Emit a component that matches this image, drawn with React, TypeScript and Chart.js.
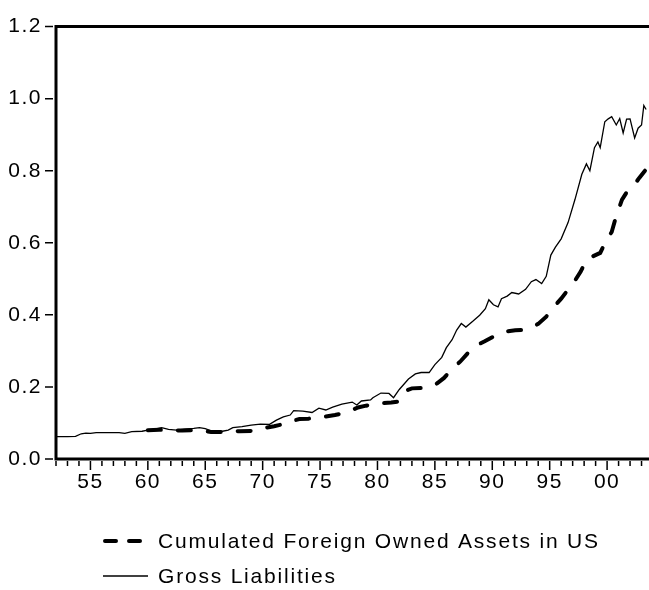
import { useEffect, useRef } from "react";
import { Chart, registerables } from "chart.js";

Chart.register(...registerables);

// Cumulated Foreign Owned Assets in US (share, dashed)
const assetsYears = [
  1960.0, 1961.0, 1962.0, 1963.0, 1964.0, 1964.8, 1965.5, 1966.5, 1967.3, 1968.0,
  1969.0, 1969.6, 1970.3, 1971.0, 1971.8, 1972.5, 1973.2, 1974.0, 1974.8, 1975.5,
  1976.3, 1977.0, 1977.7, 1978.3, 1979.0, 1979.7, 1980.5, 1981.2, 1981.9, 1982.5,
  1983.0, 1984.0, 1984.6, 1985.2, 1985.8, 1986.5, 1987.2, 1987.9, 1988.6, 1989.3,
  1990.0, 1990.6, 1991.3, 1992.0, 1992.7, 1993.3, 1994.0, 1994.7, 1995.3, 1996.0,
  1996.6, 1997.2, 1997.7, 1998.2, 1998.8, 1999.4, 1999.9, 2000.4, 2000.8, 2001.3,
  2001.8, 2002.3, 2002.8, 2003.3,
];
const assetsValues = [
  0.080, 0.081, 0.080, 0.079, 0.080, 0.078, 0.075, 0.075, 0.078, 0.077,
  0.078, 0.080, 0.087, 0.091, 0.097, 0.105, 0.111, 0.112, 0.114, 0.118,
  0.122, 0.127, 0.135, 0.143, 0.148, 0.152, 0.155, 0.157, 0.160, 0.190,
  0.196, 0.197, 0.200, 0.210, 0.225, 0.250, 0.270, 0.295, 0.315, 0.326,
  0.338, 0.347, 0.354, 0.357, 0.358, 0.363, 0.375, 0.395, 0.420, 0.445,
  0.470, 0.495, 0.520, 0.553, 0.563, 0.572, 0.605, 0.630, 0.675, 0.720,
  0.745, 0.758, 0.780, 0.800,
];

// Gross Liabilities (share, thin solid)
const grossYears = [
  1952.0, 1953.0, 1953.7, 1954.2, 1954.6, 1955.0, 1955.5, 1956.5, 1957.5, 1958.0,
  1958.6, 1959.5, 1960.0, 1960.6, 1961.2, 1961.8, 1962.5, 1963.2, 1964.0, 1964.5,
  1965.0, 1965.5, 1966.5, 1967.0, 1967.4, 1968.2, 1969.0, 1969.8, 1970.6, 1971.2,
  1971.8, 1972.4, 1972.7, 1973.5, 1974.3, 1974.9, 1975.5, 1976.1, 1976.9, 1977.8,
  1978.2, 1978.6, 1979.4, 1979.6, 1980.3, 1981.0, 1981.4, 1981.9, 1982.7, 1983.3,
  1983.8, 1984.5, 1985.0, 1985.6, 1986.0, 1986.5, 1986.9, 1987.3, 1987.7, 1988.3,
  1988.9, 1989.4, 1989.7, 1990.1, 1990.5, 1990.8, 1991.3, 1991.7, 1992.3, 1992.9,
  1993.4, 1993.8, 1994.3, 1994.7, 1995.1, 1995.5, 1996.0, 1996.6, 1997.2, 1997.8,
  1998.2, 1998.5, 1998.9, 1999.2, 1999.4, 1999.8, 2000.1, 2000.4, 2000.8, 2001.1,
  2001.4, 2001.7, 2002.0, 2002.4, 2002.7, 2003.0, 2003.2, 2003.4,
];
const grossValues = [
  0.062, 0.062, 0.063, 0.070, 0.072, 0.071, 0.073, 0.073, 0.073, 0.071,
  0.076, 0.077, 0.080, 0.083, 0.087, 0.082, 0.080, 0.083, 0.085, 0.087,
  0.084, 0.078, 0.077, 0.080, 0.087, 0.090, 0.094, 0.097, 0.096, 0.108,
  0.117, 0.122, 0.134, 0.133, 0.129, 0.141, 0.136, 0.144, 0.152, 0.158,
  0.150, 0.161, 0.164, 0.170, 0.183, 0.182, 0.170, 0.193, 0.222, 0.236,
  0.240, 0.240, 0.262, 0.282, 0.309, 0.331, 0.358, 0.376, 0.366, 0.382,
  0.399, 0.417, 0.442, 0.428, 0.422, 0.445, 0.452, 0.462, 0.458, 0.471,
  0.492, 0.498, 0.487, 0.507, 0.566, 0.588, 0.611, 0.656, 0.720, 0.790,
  0.819, 0.800, 0.864, 0.880, 0.864, 0.936, 0.944, 0.950, 0.927, 0.945,
  0.905, 0.943, 0.944, 0.891, 0.918, 0.927, 0.981, 0.970,
];

const legendLabels = ["Cumulated Foreign Owned Assets in US", "Gross Liabilities"];
const yTickValues = [0, 0.2, 0.4, 0.6, 0.8, 1.0, 1.2];
const xLabelYears = [1955, 1960, 1965, 1970, 1975, 1980, 1985, 1990, 1995, 2000];
const xFirstYear = 1952;
const xLastTickYear = 2003;

const FONT = "'Liberation Sans', Arial, Helvetica, sans-serif";

export default function App() {
  const ref = useRef<HTMLCanvasElement | null>(null);

  useEffect(() => {
    document.body.style.margin = "0";
    const canvas = ref.current;
    if (!canvas) return;

    const decor = {
      id: "decor",
      beforeDraw(chart: any) {
        chart.ctx.letterSpacing = "1.5px";
      },
      afterDraw(chart: any) {
        const { ctx, chartArea, scales } = chart;
        const { left, top, right, bottom } = chartArea;
        const xs = scales.x;
        const ys = scales.y;
        ctx.save();
        ctx.strokeStyle = "#000";
        ctx.lineCap = "butt";
        // frame (left, top, bottom)
        ctx.lineWidth = 3;
        ctx.beginPath();
        ctx.moveTo(left, bottom);
        ctx.lineTo(left, top);
        ctx.lineTo(right, top);
        ctx.moveTo(left - 1.5, bottom);
        ctx.lineTo(right, bottom);
        ctx.stroke();
        // y ticks
        ctx.lineWidth = 1.5;
        ctx.beginPath();
        yTickValues.forEach((v) => {
          const py = ys.getPixelForValue(v);
          ctx.moveTo(left - 11, py);
          ctx.lineTo(left - 3, py);
        });
        // x ticks (yearly, long every 5 years)
        for (let yr = xFirstYear; yr <= xLastTickYear; yr++) {
          const px = xs.getPixelForValue(yr);
          const major = yr % 5 === 0;
          ctx.moveTo(px, bottom + 2);
          ctx.lineTo(px, bottom + (major ? 11 : 7));
        }
        ctx.stroke();

        // legend
        const ds = chart.data.datasets;
        const rows = [541, 576];
        const sx0 = 105;
        const sx1 = 143;
        ds.forEach((d: any, i: number) => {
          const yy = rows[i];
          ctx.save();
          ctx.lineWidth = d.borderWidth;
          ctx.lineCap = d.borderCapStyle || "butt";
          ctx.setLineDash(i === 0 ? [11, 13] : []);
          ctx.beginPath();
          ctx.moveTo(i === 0 ? sx0 : 103, yy);
          ctx.lineTo(i === 0 ? sx1 - 2 : 148, yy);
          ctx.stroke();
          ctx.restore();
          ctx.fillStyle = "#000";
          ctx.font = `21px ${FONT}`;
          ctx.letterSpacing = "1.8px";
          ctx.textAlign = "left";
          ctx.textBaseline = "middle";
          ctx.fillText(d.label, 158, yy + 1);
        });
        ctx.restore();
        ctx.letterSpacing = "0px";
      },
    };

    const chart = new Chart(canvas, {
      type: "line",
      data: {
        datasets: [
          {
            label: legendLabels[0],
            data: assetsYears.map((x, i) => ({ x, y: assetsValues[i] })),
            borderColor: "#000",
            borderWidth: 4,
            borderDash: [13, 17],
            borderCapStyle: "round",
            pointRadius: 0,
            tension: 0,
            fill: false,
          },
          {
            label: legendLabels[1],
            data: grossYears.map((x, i) => ({ x, y: grossValues[i] })),
            borderColor: "#000",
            borderWidth: 1.3,
            pointRadius: 0,
            tension: 0,
            fill: false,
          },
        ],
      },
      options: {
        animation: false,
        responsive: false,
        layout: { padding: { top: 16, left: 0, right: 0, bottom: 0 } },
        plugins: { legend: { display: false }, tooltip: { enabled: false } },
        scales: {
          x: {
            type: "linear",
            min: 1952,
            max: 2003.65,
            grid: { display: false, drawTicks: false },
            border: { display: false },
            afterBuildTicks: (s: any) => {
              s.ticks = xLabelYears.map((v) => ({ value: v }));
            },
            afterFit: (s: any) => {
              s.height = 131;
            },
            ticks: {
              autoSkip: false,
              maxRotation: 0,
              padding: 11,
              color: "#000",
              font: { family: FONT, size: 21 },
              callback: (v: any) => String(Number(v) % 100).padStart(2, "0"),
            },
          },
          y: {
            min: 0,
            max: 1.2,
            grid: { display: false, drawTicks: false },
            border: { display: false },
            afterBuildTicks: (s: any) => {
              s.ticks = yTickValues.map((v) => ({ value: v }));
            },
            afterFit: (s: any) => {
              s.width = 56;
            },
            ticks: {
              padding: 14,
              color: "#000",
              font: { family: FONT, size: 21 },
              callback: (v: any) => Number(v).toFixed(1),
            },
          },
        },
      },
      plugins: [decor],
    });

    return () => chart.destroy();
  }, []);

  return (
    <div style={{ width: 649, height: 590, background: "#fff" }}>
      <canvas ref={ref} width={649} height={590} style={{ display: "block" }} />
    </div>
  );
}
